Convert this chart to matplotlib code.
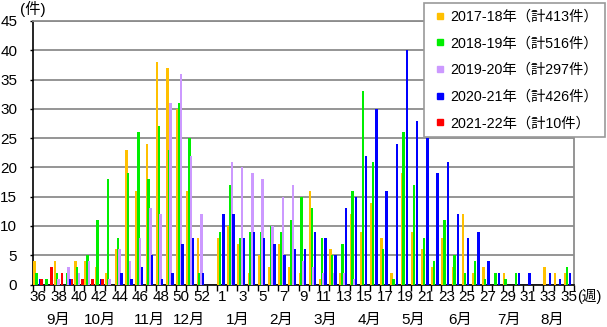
import numpy as np
import matplotlib
matplotlib.use("Agg")
import matplotlib.pyplot as plt
from matplotlib.lines import Line2D
from matplotlib.ticker import FixedLocator, MultipleLocator
import matplotlib.transforms as mtransforms

plt.rcParams['font.family'] = ['Liberation Sans', 'Noto Sans CJK JP']

# weeks 36..53, then 1..35
weeks = list(range(36, 54)) + list(range(1, 36))

s2017 = [4, 0, 4, 0, 4, 4, 3, 2, 6, 23, 16, 24, 38, 37, 30, 16, 8, 0,
         8, 10, 7, 2, 5, 3, 7, 3, 2, 16, 1, 6, 2, 12, 9, 14, 8, 2, 19, 9, 6,
         3, 8, 3, 12, 2, 3, 0, 2, 0, 0, 0, 3, 2, 2]
s2018 = [2, 1, 2, 2, 3, 5, 11, 18, 8, 19, 26, 18, 27, 23, 31, 25, 2, 0,
         9, 17, 8, 9, 9, 10, 9, 11, 15, 13, 8, 5, 7, 16, 33, 21, 6, 1, 26, 17, 8,
         4, 11, 5, 2, 4, 1, 2, 1, 2, 0, 0, 0, 0, 3]
s2019 = [0, 0, 1, 3, 2, 4, 0, 1, 6, 4, 8, 13, 12, 31, 36, 22, 12, 0,
         0, 21, 20, 19, 18, 10, 15, 17, 4, 3, 2, 2, 2, 1, 0, 0, 0, 0, 0, 0, 0,
         0, 0, 0, 0, 0, 0, 0, 0, 0, 0, 0, 0, 0, 0]
s2020 = [1, 0, 0, 1, 0, 0, 1, 0, 2, 1, 3, 5, 1, 2, 7, 8, 2, 0,
         12, 12, 8, 9, 8, 7, 5, 6, 6, 9, 8, 5, 13, 15, 22, 30, 16, 24, 40, 28, 25,
         19, 21, 12, 8, 9, 4, 2, 0, 2, 2, 0, 2, 1, 2]
s2021 = [1, 3, 2, 1, 1, 1, 1, 0, 0, 0, 0, 0, 0, 0, 0, 0, 0, 0,
         0, 0, 0, 0, 0, 0, 0, 0, 0, 0, 0, 0, 0, 0, 0, 0, 0, 0, 0, 0, 0,
         0, 0, 0, 0, 0, 0, 0, 0, 0, 0, 0, 0, 0, 0]

labels = ["2017-18年（計413件）", "2018-19年（計516件）", "2019-20年（計297件）",
          "2020-21年（計426件）", "2021-22年（計10件）"]
colors = ["#FFC000", "#00EE00", "#CC99FF", "#0000FF", "#FF0000"]

months = ["9月", "10月", "11月", "12月", "1月", "2月", "3月", "4月", "5月", "6月", "7月", "8月"]
month_pos = [1.9, 6.0, 10.9, 14.8, 19.5, 23.8, 28.1, 32.5, 36.7, 41.3, 46.1, 50.4]

W, H = 607, 327
fig = plt.figure(figsize=(W / 100, H / 100), dpi=100)
ax = fig.add_axes([33.3 / W, 42.5 / H, 540.6 / W, 263.5 / H])

x = np.arange(len(weeks))
for k, (vals, col) in enumerate(zip([s2017, s2018, s2019, s2020, s2021], colors)):
    ax.bar(x - 0.365 + k * 0.167, vals, width=0.25, color=col, linewidth=0, zorder=3)

ax.set_xlim(-0.5, len(weeks) - 0.5)
ax.set_ylim(0, 45)
ax.yaxis.set_major_locator(MultipleLocator(5))
ax.yaxis.grid(True, color="#8c8c8c", lw=1.3)
ax.set_axisbelow(True)

ax.set_xticks(x[::2])
ax.set_xticklabels([str(w) for w in weeks[::2]])
ax.xaxis.set_minor_locator(FixedLocator(np.arange(-0.5, len(weeks), 1)))
ax.tick_params(axis="x", which="major", length=0, pad=4, labelsize=11)
ax.tick_params(axis="x", which="minor", length=4, width=1, color="black")
ax.tick_params(axis="y", length=2.5, width=1, pad=9, labelsize=11)

for s in ["top", "right"]:
    ax.spines[s].set_color("#8c8c8c")
    ax.spines[s].set_linewidth(1.3)
ax.spines["left"].set_linewidth(1.2)
ax.spines["bottom"].set_linewidth(1.2)

trans = mtransforms.blended_transform_factory(ax.transData, ax.transAxes)
for m, p in zip(months, month_pos):
    ax.text(p, -0.133, m, transform=trans, ha="center", va="center", fontsize=11)

fig.text(33 / W, 1 - 8.5 / H, "(件)", ha="center", va="center", fontsize=11)
fig.text(589 / W, 1 - 296 / H, "(週)", ha="center", va="center", fontsize=10.5)

handles = [Line2D([], [], marker="s", ls="none", color=c, markersize=4.5) for c in colors]
leg = fig.legend(handles, labels, loc="upper left", bbox_to_anchor=(424 / W, 1 - 2.7 / H),
                 bbox_transform=fig.transFigure, borderaxespad=0, fontsize=10.3,
                 handlelength=1.2, handletextpad=0.1, borderpad=0.5, labelspacing=0.88,
                 fancybox=False, framealpha=1, edgecolor="#999999")
leg.get_frame().set_linewidth(1.2)

fig.savefig("out.png", dpi=100)
